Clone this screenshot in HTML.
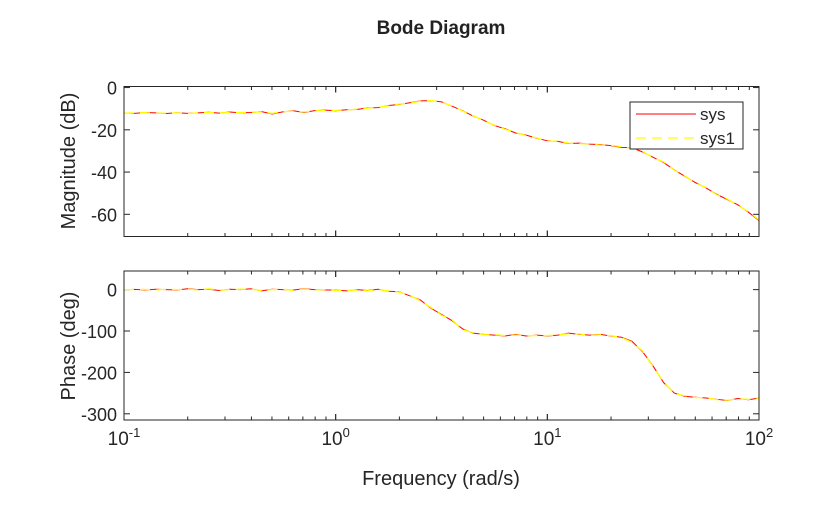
<!DOCTYPE html>
<html><head><meta charset="utf-8"><style>
html,body{margin:0;padding:0;background:#fff;}
svg{display:block;font-family:"Liberation Sans",Arial,sans-serif;}
</style></head><body>
<svg id="chart" width="840" height="506" viewBox="0 0 840 506" xmlns="http://www.w3.org/2000/svg">
<rect width="840" height="506" fill="#fff"/>
<text x="441" y="34" text-anchor="middle" font-size="19" font-weight="bold" fill="#222">Bode Diagram</text>
<text transform="translate(75,161) rotate(-90)" text-anchor="middle" font-size="20" fill="#262626">Magnitude (dB)</text>
<text transform="translate(75,346) rotate(-90)" text-anchor="middle" font-size="20" fill="#262626">Phase (deg)</text>
<text x="441" y="485" text-anchor="middle" font-size="20" fill="#262626">Frequency (rad/s)</text>
<g id="mag"></g>
<g id="phase"></g>
<g>
<rect x="630" y="102" width="113" height="47" fill="#fff" stroke="#262626" stroke-width="1"/>
<g>
<line x1="636" y1="114" x2="696" y2="114" stroke="#ff0000" stroke-width="1"/>
<text x="700" y="120" font-size="17" fill="#262626">sys</text></g>
<g>
<line x1="636" y1="138" x2="696" y2="138" stroke="#ffff00" stroke-width="1.3" stroke-dasharray="10,6"/>
<text x="700" y="144" font-size="17" fill="#262626">sys1</text></g>
</g>
</svg>
<script>
const logFreq = [];
for (let k = 0; k <= 60; k++) logFreq.push(-1 + 0.05 * k);
const magSys = [-12,-12.2,-11.8,-12,-12.3,-11.9,-12.2,-12,-11.7,-12.1,-11.6,-12,-11.8,-11.4,-12.5,-11.5,-11,-11.8,-10.9,-10.7,-11,-10.5,-10.4,-9.6,-9.5,-8.5,-8,-7.2,-6.3,-6.2,-6.8,-8.8,-11,-13.5,-15.5,-18,-19.5,-21.5,-22.5,-24,-25.2,-25.5,-26.5,-26.3,-26.8,-27,-27.5,-28.3,-28.5,-30.5,-33,-35.5,-39,-42,-45,-47.5,-50.5,-53,-55.5,-59,-63];
const magSys1 = [-12.1,-12,-11.9,-12.2,-12.1,-12,-12.4,-11.9,-11.8,-12,-11.8,-11.9,-11.6,-11.6,-12.2,-11.4,-11.2,-11.5,-11,-10.9,-10.8,-10.6,-10.2,-9.8,-9.3,-8.7,-7.8,-7.4,-6.5,-6.1,-7,-8.6,-11.2,-13.3,-15.8,-17.8,-19.8,-21.2,-22.8,-23.8,-25.4,-25.3,-26.3,-26.6,-26.6,-27.3,-27.3,-28,-28.8,-30.2,-33.3,-35.2,-39.2,-41.8,-45.3,-47.3,-50.8,-52.7,-55.8,-58.7,-62.6];
const phSys = [0,0.5,-1,1,0,-1,2,0,1,-2,1,0,2,-3,1,0,-1,2,0,-1,-1,-3,0,-2,1,-4,-5,-15,-25,-45,-60,-75,-95,-105,-108,-110,-112,-108,-112,-110,-112,-110,-105,-108,-110,-108,-112,-115,-125,-150,-185,-225,-250,-258,-260,-262,-265,-268,-263,-266,-262];
const phSys1 = [0,0,0.5,-1,1,0,1,-1,2,-1,0,1,1,-2,0,1,-2,1,-1,0,-2,-2,-1,-3,0,-3,-6,-14,-27,-43,-62,-73,-97,-104,-109,-109,-111,-110,-111,-111,-111,-109,-107,-107,-111,-109,-111,-116,-127,-148,-187,-223,-252,-256,-261,-261,-266,-267,-264,-265,-263];
const magTicks = [0,-20,-40,-60];
const magTickLabels = ["0","-20","-40","-60"];
const phTicks = [0,-100,-200,-300];
const phTickLabels = ["0","-100","-200","-300"];
const decades = [-1,0,1,2];

const NS = "http://www.w3.org/2000/svg";
const X0 = 124, X1 = 759;
function xScale(lf){ return X0 + (lf + 1) / 3 * (X1 - X0); }
function mk(tag, attrs, parent){ const e = document.createElementNS(NS, tag); for (const k in attrs) e.setAttribute(k, attrs[k]); parent.appendChild(e); return e; }

function drawAxes(g, top, bot, ymin, ymax, ticks, labels, s1, s2, showX, prefix){
  const yScale = v => top + (ymax - v) / (ymax - ymin) * (bot - top);
  const tl = 6;
  ticks.forEach((t, i) => {
    const y = yScale(t);
    const l1 = mk("line", {x1:X0, y1:y, x2:X0+tl, y2:y, stroke:"#262626"}, g);
    
    
    mk("line", {x1:X1, y1:y, x2:X1-tl, y2:y, stroke:"#262626"}, g);
    const tx = mk("text", {x:X0-7, y:y+7, "text-anchor":"end", "font-size":"18", fill:"#262626"}, g);
    tx.textContent = labels[i];
    
    
  });
  for (let d = -1; d < 2; d++) for (let m = 1; m <= 10; m++) {
    const x = xScale(d + Math.log10(m));
    const len = (m === 1 || m === 10) ? tl : 3.5;
    mk("line", {x1:x, y1:bot, x2:x, y2:bot-len, stroke:"#262626"}, g);
    mk("line", {x1:x, y1:top, x2:x, y2:top+len, stroke:"#262626"}, g);
  }
  const clipId = prefix + "-clip";
  const cp = mk("clipPath", {id:clipId}, g);
  mk("rect", {x:X0, y:top, width:X1-X0, height:bot-top}, cp);
  const pts = arr => arr.map((v, i) => xScale(logFreq[i]).toFixed(2) + "," + yScale(v).toFixed(2)).join(" ");
  const p1 = mk("polyline", {points:pts(s1), fill:"none", stroke:"#ff0000", "stroke-width":"1", "clip-path":"url(#"+clipId+")"}, g);
  
  
  const p2 = mk("polyline", {points:pts(s2), fill:"none", stroke:"#ffff00", "stroke-width":"1.3", "stroke-dasharray":"10,6", "clip-path":"url(#"+clipId+")"}, g);
  
  
  const box = mk("rect", {x:X0, y:top, width:X1-X0, height:bot-top, fill:"none", stroke:"#262626", "stroke-width":"1"}, g);
  
  
  if (showX) {
    decades.forEach(d => {
      const x = xScale(d);
      const t = mk("text", {x:x, y:bot+25, "text-anchor":"middle", "font-size":"19", fill:"#262626"}, g);
      
      
      const a = mk("tspan", {}, t); a.textContent = "10";
      const b = mk("tspan", {dy:"-8", "font-size":"13"}, t); b.textContent = String(d);
    });
  }
}
drawAxes(document.getElementById("mag"), 86.5, 236.5, -70.5, 0.5, magTicks, magTickLabels, magSys, magSys1, false, "magnitude");
drawAxes(document.getElementById("phase"), 271, 420, -315, 45, phTicks, phTickLabels, phSys, phSys1, true, "phase");
</script>
</body></html>
